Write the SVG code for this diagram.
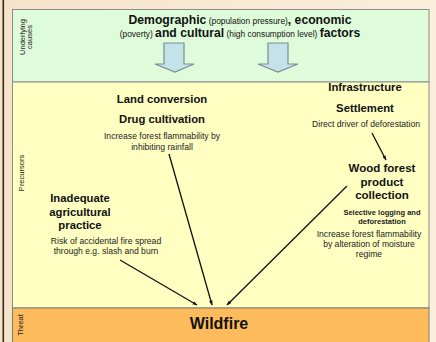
<svg xmlns="http://www.w3.org/2000/svg" width="436" height="342" viewBox="0 0 436 342">
<defs>
<linearGradient id="bg" x1="0" y1="0" x2="1" y2="0">
<stop offset="0" stop-color="#f5e3cb"/>
<stop offset="1" stop-color="#fbeedd"/>
</linearGradient>
<marker id="ah" viewBox="0 0 10 10" refX="9" refY="5" markerWidth="5" markerHeight="5" orient="auto" markerUnits="userSpaceOnUse">
<path d="M0,1.5 L10,5 L0,8.5 Z" fill="#111"/>
</marker>
<style>
text{font-family:"Liberation Sans",Arial,sans-serif;fill:#111;}
.b{font-weight:bold;font-size:11.3px;text-anchor:middle;}
.s{font-size:8.6px;text-anchor:middle;fill:#222;}
.sb{font-size:7.5px;font-weight:bold;text-anchor:middle;fill:#222;}
.lab{font-size:7.5px;text-anchor:middle;fill:#222;}
.hd{font-weight:bold;font-size:12.2px;}
.pn{font-weight:normal;font-size:8.4px;}
.con{stroke:#111;stroke-width:1.3;fill:none;marker-end:url(#ah);}
.blk{fill:#c4e2ea;stroke:#7c8c92;stroke-width:1.2;}
</style>
</defs>
<rect x="0" y="0" width="436" height="342" fill="url(#bg)"/>
<rect x="2.5" y="0" width="1.6" height="342" fill="#3b2b1c"/>
<g id="bands">
<rect x="12.5" y="9.5" width="416.5" height="72.5" fill="#dffcda" stroke="#8c8c8c" stroke-width="1"/>
<rect x="12.5" y="82" width="416.5" height="226" fill="#ffffc2" stroke="#8c8c8c" stroke-width="1"/>
<rect x="12.5" y="308" width="416.5" height="40" fill="#fdbb5c" stroke="#7a7a7a" stroke-width="1"/>
<text class="lab" transform="translate(24.5,37) rotate(-90)">Underlying</text>
<text class="lab" transform="translate(32,37) rotate(-90)">causes</text>
<text class="lab" transform="translate(23.5,173) rotate(-90)">Precursors</text>
<text class="lab" transform="translate(22.5,325) rotate(-90)">Threat</text>
</g>
<g id="underlying">
<text x="240" y="24" text-anchor="middle"><tspan class="hd">Demographic</tspan><tspan class="pn"> (population pressure)</tspan><tspan class="hd">, economic</tspan></text>
<text x="240" y="37" text-anchor="middle"><tspan class="pn">(poverty) </tspan><tspan class="hd">and cultural</tspan><tspan class="pn"> (high consumption level) </tspan><tspan class="hd">factors</tspan></text>
<polygon class="blk" points="164,43 184,43 184,64 194,64 175,72 155,64 164,64"/>
<polygon class="blk" points="268,43 288,43 288,64 298,64 278,72 258,64 268,64"/>
</g>
<g id="land">
<text class="b" x="162" y="103">Land conversion</text>
<text class="b" x="162" y="123">Drug cultivation</text>
<text class="s" x="162" y="139">Increase forest flammability by</text>
<text class="s" x="162" y="150">inhibiting rainfall</text>
</g>
<g id="agri">
<text class="b" x="80" y="202">Inadequate</text>
<text class="b" x="80" y="215.5">agricultural</text>
<text class="b" x="80" y="229">practice</text>
<text class="s" x="106" y="244">Risk of accidental fire spread</text>
<text class="s" x="106" y="254">through e.g. slash and burn</text>
</g>
<g id="infra">
<text class="b" x="365" y="91">Infrastructure</text>
<text class="b" x="365" y="112">Settlement</text>
<text class="s" x="366" y="127">Direct driver of deforestation</text>
</g>
<g id="wood">
<text class="b" x="382" y="172" style="font-size:11.5px">Wood forest</text>
<text class="b" x="382" y="185.5" style="font-size:11.5px">product</text>
<text class="b" x="382" y="199" style="font-size:11.5px">collection</text>
<text class="sb" x="382" y="215">Selective logging and</text>
<text class="sb" x="382" y="223.5">deforestation</text>
<text class="s" x="369" y="237">Increase forest flammability</text>
<text class="s" x="369" y="247">by alteration of moisture</text>
<text class="s" x="369" y="257">regime</text>
</g>
<g id="wildfire">
<text x="219" y="329" text-anchor="middle" style="font-weight:bold;font-size:16px">Wildfire</text>
</g>
<g id="connectors">
<line class="con" x1="169" y1="154" x2="212" y2="305"/>
<line class="con" x1="120" y1="260" x2="197" y2="305"/>
<line class="con" x1="347" y1="186" x2="227" y2="305"/>
<line class="con" x1="372" y1="133" x2="386" y2="160"/>
</g>
</svg>
